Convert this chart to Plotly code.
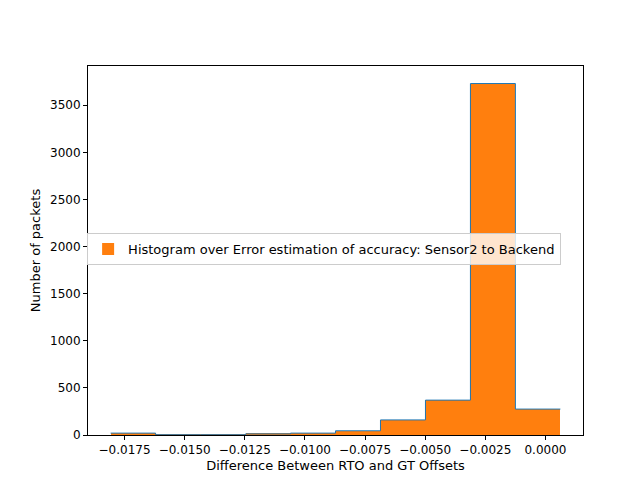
import plotly.graph_objects as go

# histogram of error estimation, 10 bins
bin_edges = [-0.01808, -0.01621, -0.01434, -0.01247, -0.01060, -0.00873,
             -0.00686, -0.00499, -0.00312, -0.00125, 0.00062]
counts = [20, 3, 3, 12, 20, 45, 160, 370, 3730, 275]
label = "Histogram over Error estimation of accuracy: Sensor2 to Backend"

centers = [(a + b) / 2 for a, b in zip(bin_edges[:-1], bin_edges[1:])]
widths = [b - a for a, b in zip(bin_edges[:-1], bin_edges[1:])]

fig = go.Figure()
# blue step outline drawn underneath
fig.add_trace(go.Scatter(x=bin_edges, y=[0] + counts[1:] + [counts[-1]] if False else [counts[0]] + counts[1:] + [counts[-1]],
                         mode="lines", line=dict(color="#1f77b4", width=1, shape="hv"),
                         showlegend=False, hoverinfo="skip"))
fig.add_trace(go.Bar(x=centers, y=counts, width=widths, marker=dict(color="#ff7f0e", line=dict(width=0)),
                     name=label))

axis_common = dict(showgrid=False, zeroline=False, showline=True, linecolor="black", mirror=True,
                   ticks="outside", ticklen=4, tickcolor="black", tickfont=dict(size=12, color="black"))
fig.update_xaxes(range=[-0.01902, 0.00156], tickvals=[-0.0175, -0.015, -0.0125, -0.01, -0.0075, -0.005, -0.0025, 0],
                 ticktext=["−0.0175", "−0.0150", "−0.0125", "−0.0100", "−0.0075", "−0.0050", "−0.0025", "0.0000"],
                 title=dict(text="Difference Between RTO and GT Offsets", font=dict(size=13, color="black"), standoff=4),
                 **axis_common)
fig.update_yaxes(range=[0, 3916], tickvals=[0, 500, 1000, 1500, 2000, 2500, 3000, 3500],
                 title=dict(text="Number of packets", font=dict(size=13, color="black"), standoff=6),
                 **axis_common)
fig.update_layout(width=640, height=480, margin=dict(l=80, r=65, t=58, b=53),
                  paper_bgcolor="white", plot_bgcolor="white", bargap=0,
                  font=dict(family="DejaVu Sans"),
                  legend=dict(x=0.477, y=0.504, xanchor="center", yanchor="middle",
                              bgcolor="rgba(255,255,255,0.8)", bordercolor="#cccccc", borderwidth=1,
                              font=dict(size=13, color="black")))
fig.write_html("out.html")
